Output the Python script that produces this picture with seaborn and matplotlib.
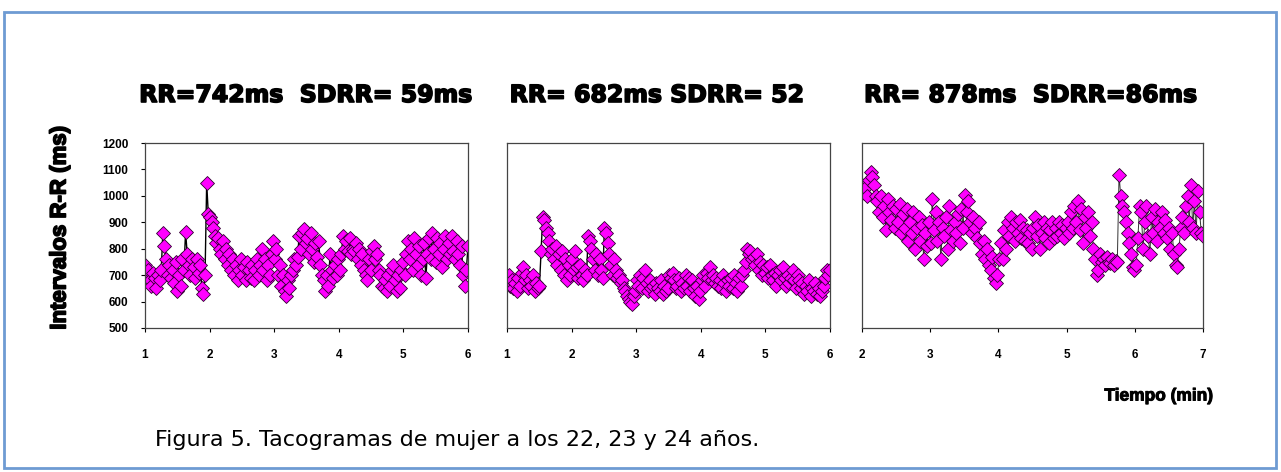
import numpy as np
import matplotlib
matplotlib.use("Agg")
import matplotlib.pyplot as plt
import matplotlib.patches as patches
import matplotlib.patheffects as pe
import seaborn as sns

# RR intervals (ms), evenly spread over each time window
rr_22 = [
    740, 700, 720, 680, 660, 710, 690, 650, 700, 680, 720, 860, 810, 760, 700, 740, 690, 720, 670, 750,
    640, 700, 660, 760, 720, 865, 780, 740, 700, 760, 730, 690, 760, 710, 740, 650, 630, 700, 1050, 930,
    920, 900, 880, 850, 820, 840, 800, 780, 830, 760, 800, 740, 780, 720, 760, 700, 740, 680, 720, 760,
    700, 730, 680, 750, 720, 690, 740, 680, 720, 760, 700, 740, 800, 720, 760, 680, 740, 700, 780, 830,
    760, 800, 700, 740, 660, 700, 640, 620, 680, 650, 700, 720, 760, 740, 770, 850, 800, 860, 875, 820,
    840, 780, 860, 800, 750, 820, 770, 830, 740, 700, 680, 640, 700, 660, 780, 720, 690, 740, 700, 760,
    720, 780, 850, 800, 830, 790, 840, 780, 800, 790, 820, 760, 800, 740, 780, 720, 700, 680, 760, 720,
    790, 810, 760, 780, 720, 700, 660, 650, 680, 640, 700, 660, 720, 740, 680, 640, 700, 650, 720, 750,
    700, 780, 830, 760, 800, 720, 840, 780, 740, 810, 700, 760, 820, 690, 780, 840, 760, 860, 800, 750,
    840, 780, 820, 730, 800, 850, 760, 820, 780, 850, 790, 760, 830, 780, 740, 810, 700, 660, 720, 810,
]
rr_23 = [
    690, 700, 660, 680, 650, 670, 640, 690, 660, 710, 730, 680, 700, 650, 680, 660, 700, 640, 670, 650,
    660, 790, 920, 910, 880, 860, 830, 780, 800, 760, 810, 740, 780, 720, 790, 700, 760, 680, 740, 700,
    760, 720, 790, 730, 690, 740, 700, 680, 720, 700, 850, 830, 800, 760, 720, 780, 700, 760, 720, 690,
    880, 860, 820, 780, 740, 700, 760, 720, 690, 700, 670, 680, 650, 640, 620, 610, 600, 590, 620, 640,
    680, 660, 700, 650, 690, 720, 670, 640, 680, 650, 660, 630, 670, 650, 640, 680, 630, 660, 640, 650,
    700, 690, 710, 680, 650, 660, 690, 640, 670, 650, 700, 660, 690, 640, 680, 650, 620, 660, 610, 640,
    680, 700, 660, 710, 690, 730, 680, 700, 670, 690, 660, 680, 650, 700, 670, 640, 680, 660, 690, 650,
    700, 670, 640, 690, 660, 700, 720, 750, 800, 780, 790, 760, 770, 740, 780, 720, 750, 700, 740, 710,
    730, 690, 740, 700, 680, 710, 660, 700, 720, 680, 730, 690, 660, 700, 670, 690, 720, 680, 650, 700,
    680, 650, 670, 630, 660, 640, 680, 620, 650, 640, 670, 630, 650, 620, 640, 660, 690, 720, 700, 720,
]
rr_24 = [
    1040, 1010, 1030, 1000, 1060, 1090, 1070, 1040, 1000, 980, 940, 1000, 920, 960, 870, 990, 940, 910, 960, 880,
    950, 900, 970, 860, 930, 880, 950, 830, 900, 860, 940, 800, 880, 920, 830, 890, 760, 860, 810, 900,
    820, 990, 870, 940, 830, 900, 760, 880, 850, 920, 800, 960, 870, 830, 900, 860, 930, 820, 950, 880,
    1005, 940, 980, 900, 860, 920, 880, 840, 900, 820, 780, 830, 760, 800, 740, 720, 770, 690, 670, 700,
    760, 820, 760, 870, 800, 900, 850, 920, 880, 830, 900, 860, 910, 840, 880, 830, 870, 820, 860, 800,
    880, 920, 850, 890, 800, 860, 900, 840, 880, 820, 870, 900, 840, 880, 850, 900, 860, 890, 840, 880,
    900, 860, 940, 880, 960, 900, 980, 870, 950, 820, 920, 880, 940, 850, 900, 800, 760, 700, 720, 780,
    750, 760, 740, 770, 750, 745, 760, 740, 755, 750, 1080, 1000, 960, 940, 900, 860, 820, 780, 730, 720,
    740, 840, 960, 940, 800, 900, 960, 850, 780, 920, 860, 950, 830, 900, 880, 940, 860, 910, 840, 880,
    800, 860, 780, 740, 730, 800, 880, 920, 860, 960, 1000, 900, 1040, 880, 980, 860, 1020, 940, 860, 850,
]

windows = [(1, 6), (1, 6), (2, 7)]
titles = ["RR=742ms  SDRR= 59ms", "RR= 682ms SDRR= 52", "RR= 878ms  SDRR=86ms"]
series = [rr_22, rr_23, rr_24]
y_ticks = [500, 600, 700, 800, 900, 1000, 1100, 1200]

sns.set_style("white")
plt.rcParams["font.family"] = ["Liberation Sans", "DejaVu Sans"]
plt.rcParams["text.color"] = "black"
plt.rcParams["xtick.color"] = "black"
plt.rcParams["ytick.color"] = "black"

W, H = 1281, 472
fig = plt.figure(figsize=(W / 100, H / 100), dpi=100)
heavy = [pe.withStroke(linewidth=1.2, foreground="black")]

# axes boxes in pixels: left, top, right, bottom
boxes = [(145, 143, 468, 328), (507, 143, 830, 328), (862, 143, 1203, 328)]
title_x = [306, 657, 1031]

for i, (vals, (t0, t1), box) in enumerate(zip(series, windows, boxes)):
    l, t, r, b = box
    ax = fig.add_axes([l / W, 1 - b / H, (r - l) / W, (b - t) / H])
    tt = np.linspace(t0, t1, len(vals))
    line_col = "black" if i < 2 else "#333333"
    sns.lineplot(x=tt, y=vals, ax=ax, color=line_col, lw=1.0 if i < 2 else 0.7,
                 marker="D", markersize=7.5, markerfacecolor="#ff00ff",
                 markeredgecolor="#300030", markeredgewidth=0.6)
    ax.set_xlim(t0, t1)
    ax.set_ylim(500, 1200)
    ax.set_xticks(range(t0, t1 + 1))
    ax.set_xticklabels([str(v) for v in range(t0, t1 + 1)], fontsize=8.5, fontweight="bold")
    ax.tick_params(axis="x", direction="out", length=3, width=0.8, pad=12, bottom=True)
    if i == 0:
        ax.set_yticks(y_ticks)
        ax.set_yticklabels([str(v) for v in y_ticks], fontsize=8.5, fontweight="bold")
        ax.tick_params(axis="y", direction="out", length=3, width=0.8, pad=9, left=True)
    else:
        ax.set_yticks([])
    for s in ax.spines.values():
        s.set_color("#444444")
        s.set_linewidth(0.9)
    ax.set_xlabel("")
    ax.set_ylabel("")
    fig.text(title_x[i] / W, 1 - 95 / H, titles[i], ha="center", va="center",
             fontsize=17, fontweight="bold", family=["DejaVu Sans"], path_effects=heavy)

fig.text(60 / W, 1 - 228 / H, "Intervalos R-R (ms)", rotation=90, ha="center", va="center",
         fontsize=16, fontweight="bold", path_effects=heavy)
fig.text(1159 / W, 1 - 396 / H, "Tiempo (min)", ha="center", va="center",
         fontsize=12.5, fontweight="bold", path_effects=[pe.withStroke(linewidth=0.7, foreground="black")])
fig.text(155 / W, 1 - 440 / H, "Figura 5. Tacogramas de mujer a los 22, 23 y 24 años.",
         ha="left", va="center", fontsize=16, family=["DejaVu Sans"])

# blue frame around the whole figure
fig.patches.append(patches.Rectangle((4 / W, 1 - 468 / H), 1272 / W, 456 / H,
                                     transform=fig.transFigure, fill=False,
                                     edgecolor="#6e9bd3", lw=2))

fig.savefig("out.png", dpi=100)
